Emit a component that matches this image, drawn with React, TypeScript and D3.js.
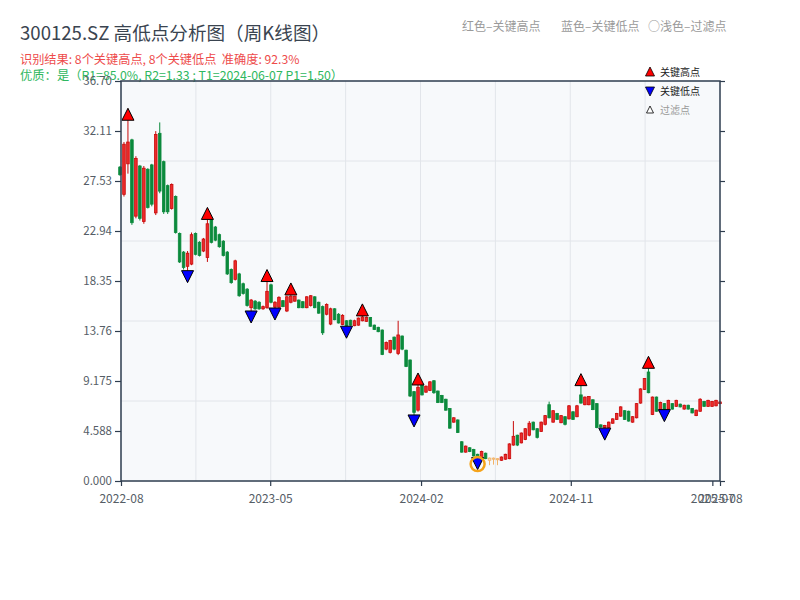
import React, { useEffect, useRef } from 'react'
import * as d3 from 'd3'

// weekly OHLC (index 0 = first week of 2022-08)
const opens = [
  28.8, 26.3, 29.1, 31.3, 24.3, 28.9, 23.8, 28.6, 29.0, 24.6, 31.9, 29.3, 27.1, 25.0, 26.1, 22.7, 21.0, 19.7, 19.9, 22.7,
  21.9, 21.1, 20.5, 23.9, 23.3, 22.6, 22.0, 21.0, 19.4, 18.5, 19.0, 18.1, 17.6, 15.9, 16.5, 16.4, 15.8, 15.9, 18.0, 15.95,
  15.95, 16.55, 15.6, 16.4, 16.5, 16.6, 16.45, 15.9, 16.1, 16.9, 16.4, 16.0, 15.3, 14.4, 15.8, 15.3, 14.35, 14.7, 14.75, 14.25,
  14.3, 14.7, 14.65, 15.0, 14.3, 14.1, 13.85, 12.1, 11.8, 13.2, 11.7, 13.3, 12.0, 11.1, 8.2, 6.5, 8.8, 8.15, 8.3, 9.2,
  8.25, 7.85, 7.5, 6.65, 5.4, 5.6, 3.6, 2.65, 3.05, 2.9, 2.45, 2.0, 2.55, 1.9, 2.0, 1.95, 1.9, 2.0, 2.05, 3.3,
  4.2, 3.5, 3.8, 4.2, 5.4, 4.8, 4.55, 5.2, 7.0, 5.4, 6.2, 5.35, 5.9, 5.7, 6.35, 5.9, 7.9, 7.0, 7.0, 7.45,
  7.1, 5.15, 4.9, 4.9, 5.3, 5.65, 5.95, 6.45, 6.4, 5.4, 5.8, 7.15, 8.4, 10.0, 6.1, 7.7, 6.4, 7.1, 6.6, 7.1,
  6.85, 7.05, 6.6, 6.95, 6.65, 6.0, 6.4, 7.3, 6.85, 6.85, 6.9, 7.1,
]
const closes = [
  28.1, 30.9, 31.1, 23.7, 29.6, 24.1, 28.7, 25.1, 25.4, 31.8, 26.6, 24.7, 24.7, 27.2, 22.8, 20.1, 19.6, 20.9, 22.6, 20.8,
  20.7, 22.2, 23.6, 21.9, 22.1, 21.5, 20.7, 19.0, 18.2, 20.2, 17.0, 17.2, 16.1, 16.6, 15.8, 15.8, 16.0, 17.4, 16.4, 16.4,
  16.85, 16.0, 16.9, 16.95, 16.95, 15.9, 15.9, 16.9, 17.0, 15.9, 15.4, 13.6, 16.2, 15.8, 14.8, 14.5, 15.2, 14.25, 14.3, 14.7,
  14.95, 15.05, 15.0, 14.2, 13.9, 13.7, 11.6, 12.7, 12.9, 12.1, 13.4, 12.1, 10.5, 7.8, 6.3, 8.6, 7.9, 8.7, 9.1, 8.1,
  7.2, 7.2, 6.5, 4.85, 5.8, 4.45, 2.65, 3.2, 2.7, 2.3, 2.3, 2.7, 2.05, 2.1, 2.1, 2.05, 2.2, 2.45, 3.4, 4.1,
  3.3, 4.4, 4.8, 5.3, 4.7, 4.0, 5.4, 6.0, 5.8, 6.45, 5.65, 6.0, 5.2, 6.9, 5.65, 6.9, 7.15, 7.7, 7.75, 6.55,
  4.9, 4.95, 5.1, 5.4, 5.7, 6.2, 6.8, 5.65, 5.5, 5.9, 7.1, 8.45, 9.4, 8.1, 7.7, 6.4, 7.2, 6.6, 7.4, 6.6,
  7.4, 6.8, 6.95, 6.6, 6.25, 6.5, 7.5, 6.85, 7.4, 7.3, 7.4, 7.25,
]
const highs = [
  28.9, 31.1, 33.1, 31.4, 29.8, 29.0, 28.9, 28.7, 29.1, 32.1, 32.9, 29.4, 27.2, 27.3, 26.2, 22.8, 21.1, 21.1, 22.8, 22.8,
  22.0, 22.3, 24.0, 24.0, 23.4, 22.7, 22.1, 21.1, 19.5, 20.3, 19.1, 18.2, 17.7, 16.7, 16.6, 16.5, 16.1, 18.3, 18.1, 16.5,
  16.95, 16.6, 17.0, 17.07, 17.0, 16.65, 16.5, 16.95, 17.05, 16.95, 16.45, 16.1, 16.3, 15.9, 15.85, 15.4, 15.3, 14.75, 14.8, 14.8,
  15.0, 15.15, 15.1, 15.05, 14.35, 14.15, 13.9, 12.8, 12.95, 13.25, 14.7, 13.35, 12.05, 11.15, 8.25, 8.81, 8.85, 8.75, 9.15, 9.25,
  8.3, 7.9, 7.55, 6.7, 5.85, 5.65, 3.65, 3.25, 3.1, 2.95, 2.5, 2.78, 2.6, 2.15, 2.15, 2.1, 2.25, 2.5, 3.46, 5.5,
  4.25, 4.45, 4.85, 5.5, 5.45, 4.85, 5.45, 6.05, 7.28, 6.5, 6.25, 6.05, 5.95, 6.97, 6.4, 6.98, 8.75, 7.75, 7.8, 7.5,
  7.15, 5.2, 5.15, 5.45, 5.75, 6.25, 6.85, 6.5, 6.45, 5.95, 7.15, 8.5, 9.45, 10.34, 7.75, 7.75, 7.28, 7.15, 7.45, 7.15,
  7.45, 7.1, 7.0, 7.0, 6.7, 6.55, 7.6, 7.35, 7.45, 7.35, 7.45, 7.3,
]
const lows = [
  28.0, 26.1, 28.2, 23.5, 24.1, 23.9, 23.6, 25.0, 25.2, 24.4, 26.4, 24.5, 24.5, 24.9, 22.7, 20.0, 19.4, 19.3, 19.8, 20.7,
  20.6, 21.0, 20.1, 21.8, 22.0, 21.4, 20.6, 18.9, 18.1, 18.4, 16.9, 17.1, 16.0, 15.6, 15.7, 15.7, 15.7, 15.8, 16.3, 15.87,
  15.9, 15.95, 15.5, 16.3, 16.45, 15.85, 15.85, 15.85, 16.0, 15.85, 15.35, 13.4, 15.2, 14.3, 14.75, 14.45, 14.3, 14.2, 14.25, 14.2,
  14.25, 14.65, 14.6, 14.15, 13.85, 13.65, 11.55, 12.0, 11.7, 12.0, 11.55, 12.0, 10.45, 7.7, 6.06, 6.36, 7.85, 8.1, 8.25, 8.0,
  7.15, 7.15, 6.45, 4.8, 5.35, 4.4, 2.6, 2.6, 2.65, 2.25, 2.15, 1.95, 2.0, 1.45, 1.5, 1.45, 1.85, 1.95, 2.0, 3.24,
  3.2, 3.45, 3.75, 4.1, 4.65, 3.9, 4.5, 5.1, 5.75, 5.35, 5.6, 5.3, 5.1, 5.65, 5.6, 5.85, 7.1, 6.95, 6.95, 6.5,
  4.84, 4.9, 4.85, 4.88, 5.25, 5.6, 5.9, 5.6, 5.45, 5.35, 5.75, 7.1, 8.35, 8.05, 6.05, 6.35, 6.35, 6.55, 6.55, 6.55,
  6.8, 6.75, 6.55, 6.55, 6.2, 5.95, 6.35, 6.8, 6.8, 6.8, 6.85, 7.05,
]

const keyHighIdx = [2, 22, 37, 43, 61, 75, 116, 133]
const keyLowIdx = [17, 33, 39, 57, 74, 90, 122, 137]
const filteredIdx = [93, 94, 95]
const circledIdx = 90

const yMax = 36.7
const yTickLabels = ['0.000', '4.588', '9.175', '13.76', '18.35', '22.94', '27.53', '32.11', '36.70']
const xDomain = ['2022-08-01', '2025-08-01']
const xTickDates = ['2022-08-01', '2023-05-01', '2024-02-01', '2024-11-01', '2025-07-18', '2025-08-01']

const title = '300125.SZ 高低点分析图（周K线图）'
const resultLine = '识别结果: 8个关键高点, 8个关键低点\u00a0\u00a0准确度: 92.3%'
const qualityLine = '优质：是（R1=85.0%, R2=1.33 ; T1=2024-06-07 P1=1.50）'
const topNotes = ['红色–关键高点', '蓝色–关键低点', '○浅色–过滤点']
const legendItems = ['关键高点', '关键低点', '过滤点']

const FONT = '"Noto Sans CJK SC", "Noto Sans", sans-serif'

const App: React.FC = () => {
  const svgRef = useRef<SVGSVGElement | null>(null)
  const width = 800
  const height = 600
  const plot = { left: 121, right: 720, top: 81, bottom: 481 }

  useEffect(() => {
    if (!svgRef.current) return
    const svg = d3.select(svgRef.current)
    svg.selectAll('*').remove()

    const n = opens.length
    const x = d3.scaleLinear().domain([0, n - 1]).range([plot.left - 1, plot.right])
    const y = d3.scaleLinear().domain([0, yMax]).range([plot.bottom, plot.top])
    const parse = d3.timeParse('%Y-%m-%d')
    const xTime = d3
      .scaleTime()
      .domain(xDomain.map((d) => parse(d)!))
      .range([plot.left, plot.right])

    const pw = plot.right - plot.left
    const ph = plot.bottom - plot.top

    // plot background + grid
    svg
      .append('rect')
      .attr('x', plot.left)
      .attr('y', plot.top)
      .attr('width', pw)
      .attr('height', ph)
      .attr('fill', '#f7f9fb')

    const grid = svg.append('g').attr('stroke', '#e2e5ea').attr('stroke-width', 1)
    d3.range(1, 8).forEach((k) => {
      const gx = plot.left + (k * pw) / 8
      grid.append('line').attr('x1', gx).attr('x2', gx).attr('y1', plot.top).attr('y2', plot.bottom)
    })
    d3.range(1, 5).forEach((k) => {
      const gy = plot.top + (k * ph) / 5
      grid.append('line').attr('x1', plot.left).attr('x2', plot.right).attr('y1', gy).attr('y2', gy)
    })

    // header texts
    svg
      .append('text')
      .attr('x', 20)
      .attr('y', 39.5)
      .attr('font-family', FONT)
      .attr('font-size', 18.6)
      .attr('fill', '#3a4450')
      .text(title)
    svg
      .append('text')
      .attr('x', 20)
      .attr('y', 63.5)
      .attr('font-family', FONT)
      .attr('font-size', 12.2)
      .attr('fill', '#ee4b4b')
      .text(resultLine)
    svg
      .append('text')
      .attr('x', 20)
      .attr('y', 80)
      .attr('font-family', FONT)
      .attr('font-size', 12.3)
      .attr('fill', '#2fb760')
      .text(qualityLine)

    const noteX = [462, 561, 648]
    topNotes.forEach((t, i) => {
      svg
        .append('text')
        .attr('x', noteX[i])
        .attr('y', 31)
        .attr('font-family', FONT)
        .attr('font-size', 12)
        .attr('fill', '#9a9a9a')
        .text(t)
    })

    // candles
    const up = '#c80a0a'
    const upFill = '#ec2a2a'
    const down = '#0b8a3c'
    const candles = svg.append('g')
    d3.range(n).forEach((i) => {
      const o = opens[i]
      const c = closes[i]
      const faded = filteredIdx.includes(i)
      const isUp = c >= o
      const stroke = faded ? '#f2b265' : isUp ? up : down
      const fill = faded ? '#fbd9ae' : isUp ? upFill : down
      const cx = x(i)
      candles
        .append('line')
        .attr('x1', cx)
        .attr('x2', cx)
        .attr('y1', y(highs[i]))
        .attr('y2', y(lows[i]))
        .attr('stroke', stroke)
        .attr('stroke-width', 1)
      const top = y(Math.max(o, c))
      const h = Math.max(1, Math.abs(y(o) - y(c)))
      candles
        .append('rect')
        .attr('x', cx - 1.3)
        .attr('y', top)
        .attr('width', 2.6)
        .attr('height', h)
        .attr('fill', fill)
        .attr('stroke', stroke)
        .attr('stroke-width', 0.8)
    })

    // key high / low markers
    const tri = d3.line<[number, number]>()
    const markers = svg.append('g').attr('stroke', '#000').attr('stroke-width', 1)
    keyHighIdx.forEach((i) => {
      const cx = x(i)
      const b = y(highs[i])
      markers
        .append('path')
        .attr('d', tri([[cx - 6, b], [cx + 6, b], [cx, b - 12]]) + 'Z')
        .attr('fill', '#ff0000')
    })
    keyLowIdx.forEach((i) => {
      const cx = x(i)
      const t = y(lows[i])
      markers
        .append('path')
        .attr('d', tri([[cx - 6, t], [cx + 6, t], [cx, t + 12]]) + 'Z')
        .attr('fill', '#0000ff')
    })
    svg
      .append('circle')
      .attr('cx', x(circledIdx))
      .attr('cy', y(lows[circledIdx]) + 6.5)
      .attr('r', 7)
      .attr('fill', 'none')
      .attr('stroke', '#f5a31a')
      .attr('stroke-width', 2.5)

    // axes
    const yTickVals = yTickLabels.map((_, k) => (k * yMax) / 8)
    const yAxis = svg
      .append('g')
      .attr('transform', `translate(${plot.left},0)`)
      .call(
        d3
          .axisLeft(y)
          .tickValues(yTickVals)
          .tickFormat((_, k) => yTickLabels[k])
          .tickSize(6)
          .tickSizeOuter(0)
      )
    const yAxisR = svg
      .append('g')
      .attr('transform', `translate(${plot.right},0)`)
      .call(d3.axisRight(y).tickValues(yTickVals).tickFormat(() => '').tickSize(5).tickSizeOuter(0))
    const xAxis = svg
      .append('g')
      .attr('transform', `translate(0,${plot.bottom})`)
      .call(
        d3
          .axisBottom(xTime)
          .tickValues(xTickDates.map((d) => parse(d)!))
          .tickFormat((d) => d3.timeFormat('%Y-%m')(d as Date))
          .tickSize(5)
          .tickSizeOuter(0)
      )
    ;[yAxis, yAxisR, xAxis].forEach((g) => {
      g.select('.domain').remove()
      g.selectAll('line').attr('stroke', '#2e3d4f').attr('stroke-width', 1.2)
      g.selectAll('text').attr('font-family', FONT).attr('fill', '#555d66')
    })
    yAxis.selectAll('text').attr('font-size', 11.5)
    xAxis.selectAll('text').attr('font-size', 12).attr('dy', '1.2em')

    // frame
    svg
      .append('rect')
      .attr('x', plot.left)
      .attr('y', plot.top)
      .attr('width', pw)
      .attr('height', ph)
      .attr('fill', 'none')
      .attr('stroke', '#2e3d4f')
      .attr('stroke-width', 1.5)

    // legend
    const lg = svg.append('g').attr('font-family', FONT).attr('font-size', 10)
    const ly = [72, 91, 110]
    const lx = 650
    lg.append('path')
      .attr('d', tri([[lx - 4.5, ly[0] + 4], [lx + 4.5, ly[0] + 4], [lx, ly[0] - 5]]) + 'Z')
      .attr('fill', '#ff0000')
      .attr('stroke', '#000')
      .attr('stroke-width', 0.8)
    lg.append('path')
      .attr('d', tri([[lx - 4.5, ly[1] - 4], [lx + 4.5, ly[1] - 4], [lx, ly[1] + 5]]) + 'Z')
      .attr('fill', '#0000ff')
      .attr('stroke', '#000')
      .attr('stroke-width', 0.8)
    lg.append('path')
      .attr('d', tri([[lx - 3.5, ly[2] + 3], [lx + 3.5, ly[2] + 3], [lx, ly[2] - 4]]) + 'Z')
      .attr('fill', '#ffffff')
      .attr('stroke', '#000')
      .attr('stroke-width', 0.8)
    legendItems.forEach((t, i) => {
      lg.append('text')
        .attr('x', 660)
        .attr('y', ly[i] + 3.5)
        .attr('fill', i === 2 ? '#999' : '#222')
        .text(t)
    })
  }, [])

  return (
    <svg
      ref={svgRef}
      width={width}
      height={height}
      style={{ position: 'absolute', left: 0, top: 0, background: '#fff' }}
    ></svg>
  )
}

export default App
